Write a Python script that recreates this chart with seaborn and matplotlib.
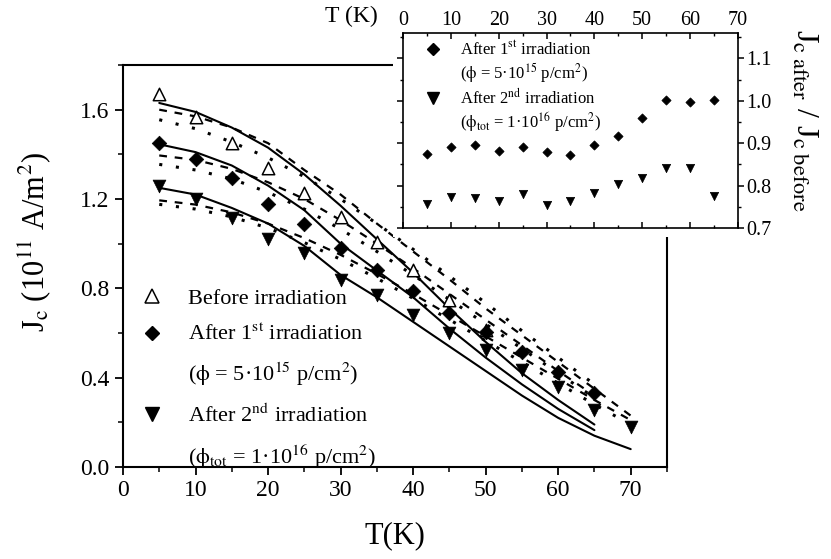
import numpy as np
import matplotlib
matplotlib.use("Agg")
import matplotlib.pyplot as plt
from matplotlib.lines import Line2D
from matplotlib.patches import Rectangle
from matplotlib.ticker import MultipleLocator, FormatStrFormatter
import seaborn as sns

sns.set_style("ticks", rc={"axes.edgecolor": "black", "xtick.color": "black",
                           "ytick.color": "black", "text.color": "black",
                           "axes.labelcolor": "black"})
plt.rcParams["font.family"] = ["Liberation Serif", "DejaVu Serif"]
plt.rcParams["mathtext.fontset"] = "stix"

# ---- measured Jc (10^11 A/m^2) ----
T_before = [5, 10, 15, 20, 25, 30, 35, 40, 45, 50]
jc_before = [1.672, 1.565, 1.453, 1.341, 1.225, 1.118, 1.006, 0.881, 0.747, 0.612]
T_after1 = [5, 10, 15, 20, 25, 30, 35, 40, 45, 50, 55, 60, 65]
jc_after1 = [1.453, 1.381, 1.296, 1.176, 1.086, 0.979, 0.881, 0.787, 0.688, 0.603, 0.514, 0.425, 0.331]
T_after2 = [5, 10, 15, 20, 25, 30, 35, 40, 45, 50, 55, 60, 65, 70]
jc_after2 = [1.256, 1.202, 1.113, 1.019, 0.957, 0.836, 0.769, 0.679, 0.599, 0.523, 0.434, 0.358, 0.255, 0.179]

# ---- model curves ----
T_fit65 = [5, 10, 15, 20, 25, 30, 35, 40, 45, 50, 55, 60, 65]
T_fit70 = [5, 10, 15, 20, 25, 30, 35, 40, 45, 50, 55, 60, 65, 70]
before_solid = [1.63, 1.59, 1.52, 1.43, 1.31, 1.17, 1.02, 0.87, 0.71, 0.56, 0.42, 0.30, 0.19]
after1_solid = [1.445, 1.41, 1.35, 1.26, 1.15, 1.00, 0.88, 0.76, 0.62, 0.49, 0.37, 0.26, 0.165]
after2_solid = [1.25, 1.22, 1.16, 1.09, 0.99, 0.86, 0.76, 0.65, 0.54, 0.43, 0.32, 0.22, 0.14, 0.08]
before_dash = [1.60, 1.57, 1.52, 1.45, 1.33, 1.22, 1.09, 0.965, 0.84, 0.71, 0.59, 0.47, 0.35, 0.23]
before_dot = [1.555, 1.515, 1.455, 1.385, 1.30, 1.20, 1.09, 0.975, 0.855, 0.735, 0.61, 0.49, 0.37]
after1_dash = [1.395, 1.375, 1.335, 1.275, 1.20, 1.105, 1.00, 0.89, 0.775, 0.66, 0.545, 0.43, 0.32]
after1_dot = [1.355, 1.33, 1.29, 1.23, 1.155, 1.065, 0.965, 0.86, 0.75, 0.64, 0.53, 0.42, 0.31]
after2_dash = [1.194, 1.175, 1.14, 1.09, 1.025, 0.95, 0.865, 0.775, 0.68, 0.585, 0.49, 0.395, 0.30, 0.21]
after2_dot = [1.176, 1.155, 1.12, 1.07, 1.005, 0.93, 0.845, 0.755, 0.66, 0.565, 0.47, 0.375, 0.28, 0.19]

# ---- inset: Jc after / Jc before ----
T_ratio = [5, 10, 15, 20, 25, 30, 35, 40, 45, 50, 55, 60, 65]
ratio1 = [0.874, 0.891, 0.895, 0.881, 0.890, 0.879, 0.873, 0.896, 0.918, 0.960, 1.001, 0.998, 1.003]
ratio2 = [0.757, 0.773, 0.770, 0.764, 0.780, 0.754, 0.764, 0.782, 0.803, 0.819, 0.841, 0.841, 0.776]

lab_before = "Before irradiation"
lab_1 = r"After 1$^{\mathrm{st}}$ irradiation"
lab_1b = r"($\mathrm{\phi}$ = 5·10$^{15}$ p/cm$^{2}$)"
lab_2 = r"After 2$^{\mathrm{nd}}$ irradiation"
lab_2b = r"($\mathrm{\phi}_{\mathrm{tot}}$ = 1·10$^{16}$ p/cm$^{2}$)"

fig = plt.figure(figsize=(8.31, 5.59), dpi=100)
ax = fig.add_axes([0.148, 0.1646, 0.6546, 0.7191])

DASH = (0, (3.5, 3.5))
DOT = (0, (1, 4.5))
curves = [(T_fit65, before_solid, "-", 1.5), (T_fit65, after1_solid, "-", 1.5),
          (T_fit70, after2_solid, "-", 1.5),
          (T_fit70, before_dash, DASH, 1.6), (T_fit65, after1_dash, DASH, 1.6),
          (T_fit70, after2_dash, DASH, 1.6),
          (T_fit65, before_dot, DOT, 2.2), (T_fit65, after1_dot, DOT, 2.2),
          (T_fit70, after2_dot, DOT, 2.2)]
for xs, ys, ls, lw in curves:
    sns.lineplot(x=xs, y=ys, ax=ax, color="black", linestyle=ls, lw=lw,
                 errorbar=None, zorder=2)

sns.scatterplot(x=T_before, y=jc_before, ax=ax, marker="^", s=80, color="white",
                edgecolor="black", linewidth=1.1, zorder=4)
sns.scatterplot(x=T_after1, y=jc_after1, ax=ax, marker="D", s=55, color="black",
                edgecolor="black", linewidth=0.5, zorder=4)
sns.scatterplot(x=T_after2, y=jc_after2, ax=ax, marker="v", s=85, color="black",
                edgecolor="black", linewidth=0.5, zorder=4)

ax.set_xlim(0, 75)
ax.set_ylim(0, 1.8)
ax.xaxis.set_major_locator(MultipleLocator(10))
ax.xaxis.set_minor_locator(MultipleLocator(5))
ax.yaxis.set_major_locator(MultipleLocator(0.4))
ax.yaxis.set_minor_locator(MultipleLocator(0.2))
ax.yaxis.set_major_formatter(FormatStrFormatter("%.1f"))
ax.tick_params(which="major", direction="out", length=6, width=1.3, labelsize=17)
ax.tick_params(which="minor", direction="out", length=3.5, width=1.1)
for sp in ax.spines.values():
    sp.set_linewidth(1.5)
ax.set_xlabel("T(K)", fontsize=22)
ax.set_ylabel(r"J$_{\mathrm{c}}$ (10$^{11}$ A/m$^{2}$)", fontsize=22)
ax.xaxis.set_label_coords(0.5, -0.135)
ax.yaxis.set_label_coords(-0.129, 0.56)

blank = Line2D([], [], linestyle="none")
h_before = Line2D([], [], linestyle="none", marker="^", ms=9.5, mfc="white", mec="black", mew=1.1)
h_1 = Line2D([], [], linestyle="none", marker="D", ms=7, mfc="black", mec="black")
h_2 = Line2D([], [], linestyle="none", marker="v", ms=10, mfc="black", mec="black")
ax.legend([h_before, h_1, blank, h_2, blank], [lab_before, lab_1, lab_1b, lab_2, lab_2b],
          loc="upper left", bbox_to_anchor=(0.033, 0.445), frameon=False, fontsize=16,
          borderaxespad=0, borderpad=0, handlelength=1.0, handletextpad=1.1,
          labelspacing=0.7)

# white margin around the inset, hiding the main frame behind it
fig.add_artist(Rectangle((393 / 831, 1 - 237 / 559), 1, 1, transform=fig.transFigure,
                         facecolor="white", edgecolor="none", zorder=2))

axin = fig.add_axes([0.485, 0.592, 0.403, 0.349])
axin.set_zorder(3)
axin.set_facecolor("white")
sns.scatterplot(x=T_ratio, y=ratio1, ax=axin, marker="D", s=22, color="black",
                edgecolor="black", linewidth=0.5, zorder=3)
sns.scatterplot(x=T_ratio, y=ratio2, ax=axin, marker="v", s=36, color="black",
                edgecolor="black", linewidth=0.5, zorder=3)
axin.set_xlim(0, 70)
axin.set_ylim(0.7, 1.16)
axin.xaxis.set_major_locator(MultipleLocator(10))
axin.xaxis.set_minor_locator(MultipleLocator(5))
axin.yaxis.set_major_locator(MultipleLocator(0.1))
axin.yaxis.set_minor_locator(MultipleLocator(0.05))
axin.yaxis.set_major_formatter(FormatStrFormatter("%.1f"))
axin.tick_params(axis="x", which="both", top=True, bottom=True, labeltop=True,
                 labelbottom=False, direction="in")
axin.tick_params(axis="y", which="both", left=True, right=True, labelleft=False,
                 labelright=True, direction="out")
axin.tick_params(which="major", length=4, width=1.1, labelsize=14.5, pad=2)
axin.tick_params(which="minor", length=2.5, width=1.0)
for sp in axin.spines.values():
    sp.set_linewidth(1.2)
axin.yaxis.set_label_position("right")
axin.set_ylabel(r"J$_{\mathrm{c\ after}}$ / J$_{\mathrm{c\ before}}$", fontsize=23,
                rotation=270, labelpad=40)
axin.yaxis.set_label_coords(1.24, 0.55)
axin.set_xlabel("")

h_1s = Line2D([], [], linestyle="none", marker="D", ms=6, mfc="black", mec="black")
h_2s = Line2D([], [], linestyle="none", marker="v", ms=8, mfc="black", mec="black")
axin.legend([h_1s, blank, h_2s, blank], [lab_1, lab_1b, lab_2, lab_2b],
            loc="upper left", bbox_to_anchor=(0.066, 0.96), frameon=False, fontsize=12,
            borderaxespad=0, borderpad=0, handlelength=1.0, handletextpad=1.1,
            labelspacing=0.15)

fig.text(0.423, 0.97, "T (K)", ha="center", va="center", fontsize=17)

fig.savefig("out.png", dpi=100)
